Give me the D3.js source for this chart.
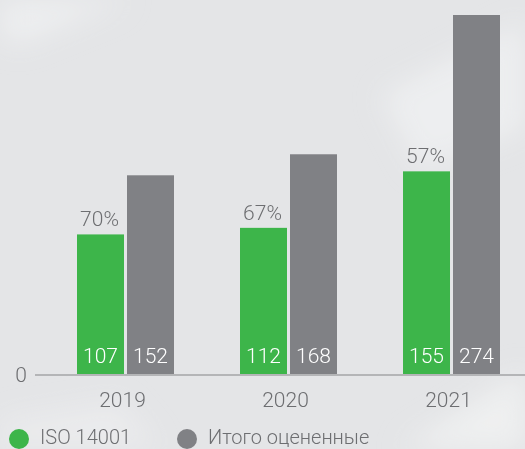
<!DOCTYPE html>
<html>
<head>
<meta charset="utf-8">
<script src="https://cdn.jsdelivr.net/npm/d3@7"></script>
<style>
  html, body { margin: 0; padding: 0; background: #e4e5e7; }
  svg { display: block; }
</style>
</head>
<body>
<svg id="chart" width="525" height="449"></svg>
<script>
// Data
const years = ["2019", "2020", "2021"];
const isoValues = [107, 112, 155];
const totalValues = [152, 168, 274];
const shareLabels = ["70%", "67%", "57%"];
const seriesNames = ["ISO 14001", "Итого оцененные"];

const W = 525, H = 449;
const green = "#3db54a", grey = "#808185", textGrey = "#6d6e71";
const font = "Roboto, 'Noto Sans', sans-serif";

const svg = d3.select("#chart");

// Soft backdrop with a few pale diagonal highlights
const defs = svg.append("defs");
defs.append("filter").attr("id", "soft")
  .append("feGaussianBlur").attr("stdDeviation", 14);
svg.append("rect").attr("width", W).attr("height", H).attr("fill", "#e4e5e7");
const haze = svg.append("g").attr("filter", "url(#soft)").attr("fill", "#f1f2f3");
haze.append("path").attr("d", "M0,0 L130,0 L20,45 L0,40 Z").attr("opacity", 0.7);
haze.append("path").attr("d", "M380,95 L525,20 L525,130 L420,170 Z").attr("opacity", 0.7);
haze.append("path").attr("d", "M400,449 L525,370 L525,449 Z").attr("opacity", 0.8);
haze.append("path").attr("d", "M0,420 L120,400 L160,449 L0,449 Z").attr("opacity", 0.5);

// Scales
const x0 = d3.scaleBand().domain(years).range([-4.5, 581.5]).paddingInner(0.405).paddingOuter(0.5);
const x1 = d3.scaleBand().domain([0, 1]).range([0, x0.bandwidth()]).paddingInner(0.06);
const y = d3.scaleLinear().domain([0, d3.max(totalValues)]).range([375, 15]);

const groups = svg.append("g").selectAll("g")
  .data(years)
  .join("g")
  .attr("transform", d => `translate(${x0(d)},0)`);

groups.each(function (yr, i) {
  const g = d3.select(this);
  const vals = [isoValues[i], totalValues[i]];
  const cols = [green, grey];
  vals.forEach((v, k) => {
    g.append("rect")
      .attr("x", x1(k))
      .attr("y", y(v))
      .attr("width", x1.bandwidth())
      .attr("height", y(0) - y(v))
      .attr("fill", cols[k]);
    g.append("text")
      .attr("x", x1(k) + x1.bandwidth() / 2)
      .attr("y", 363)
      .attr("text-anchor", "middle")
      .attr("fill", "#ffffff")
      .attr("font-family", font)
      .attr("font-weight", 300)
      .attr("font-size", 21)
      .text(v);
  });
  g.append("text")
    .attr("x", x1(0) + x1.bandwidth() / 2 - 1)
    .attr("y", y(isoValues[i]) - 8)
    .attr("text-anchor", "middle")
    .attr("fill", textGrey)
    .attr("font-family", font)
    .attr("font-weight", 300)
    .attr("font-size", 21)
    .text(shareLabels[i]);
});

// Baseline axis
const xAxis = d3.axisBottom(x0).tickSize(0).tickPadding(17);
const ax = svg.append("g").attr("transform", `translate(0,${y(0)})`).call(xAxis);
ax.select(".domain").remove();
ax.append("line").attr("x1", 35).attr("x2", W).attr("y1", 0).attr("y2", 0)
  .attr("stroke", "#b4b5b7").attr("stroke-width", 2);
ax.selectAll(".tick text")
  .attr("fill", textGrey)
  .attr("font-family", font)
  .attr("font-weight", 300)
  .attr("font-size", 21)
  .attr("dy", "0.71em")
  .attr("dx", -3);

const yAxis = d3.axisLeft(y).tickValues([0]).tickSize(0).tickPadding(0);
const ay = svg.append("g").attr("transform", "translate(27,0)").call(yAxis);
ay.select(".domain").remove();
ay.selectAll(".tick text")
  .attr("fill", textGrey)
  .attr("font-family", font)
  .attr("font-weight", 300)
  .attr("font-size", 21);

// Legend
const legendX = [19, 187];
const legend = svg.append("g").selectAll("g")
  .data(seriesNames)
  .join("g")
  .attr("transform", (d, i) => `translate(${legendX[i]},439)`);
legend.append("circle").attr("r", 10).attr("fill", (d, i) => i === 0 ? green : grey);
legend.append("text")
  .attr("x", 21)
  .attr("y", 5)
  .attr("fill", textGrey)
  .attr("font-family", font)
  .attr("font-weight", 300)
  .attr("font-size", 20)
  .text(d => d);
</script>
</body>
</html>
